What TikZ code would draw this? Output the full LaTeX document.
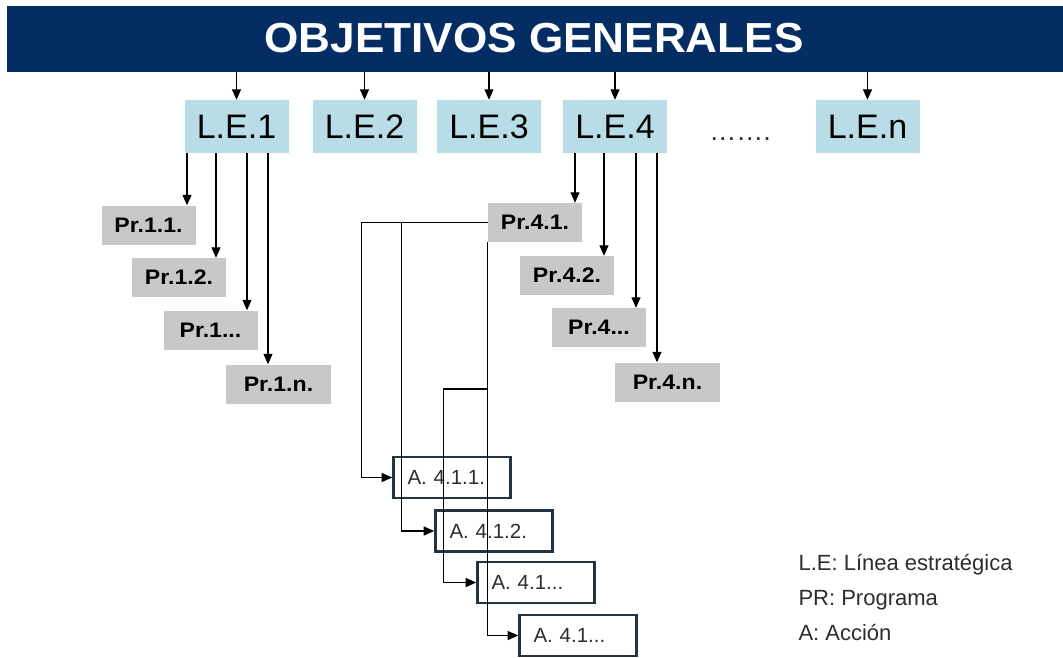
\documentclass[tikz,border=0pt]{standalone}
\usepackage{fontspec}
\setmainfont{Liberation Sans}
\usetikzlibrary{arrows.meta,calc}
\definecolor{bandblue}{RGB}{4,45,100}
\definecolor{leblue}{RGB}{185,221,230}
\definecolor{prgray}{RGB}{200,200,200}
\definecolor{aborder}{RGB}{35,52,64}
\definecolor{txtgray}{RGB}{45,45,45}
\begin{document}
\begin{tikzpicture}[x=1pt,y=-1pt,
  lebox/.style={fill=leblue,minimum width=104pt,minimum height=53pt,inner sep=0pt,
    font=\fontsize{34}{34}\selectfont},
  prbox/.style={fill=prgray,minimum width=94pt,minimum height=39pt,inner sep=0pt,
    font=\fontsize{21}{21}\selectfont\bfseries},
  abox/.style={draw=aborder,line width=2.6pt,minimum width=117pt,minimum height=41pt,
    inner xsep=14pt,text width=89pt,align=left,text=txtgray,
    font=\fontsize{20.5}{20.5}\selectfont},
  arr/.style={-{Triangle[length=10.5pt,width=9pt]},line width=1.2pt,black},
  legend/.style={anchor=base west,text=txtgray,font=\fontsize{22}{22}\selectfont}
]
\useasboundingbox (0,0) rectangle (1063,657);
\fill[white] (0,0) rectangle (1063,657);
% header band
\node[fill=bandblue,minimum width=1056pt,minimum height=66pt,inner sep=0pt,anchor=north west] (band) at (7,6) {};
\node[text=white,font=\fontsize{42}{42}\selectfont\bfseries] (title) at (534,38) {\scalebox{1.05}[1]{OBJETIVOS GENERALES}};
% strategic lines
\node[lebox] (le1) at (236.5,126.5) {L.E.1};
\node[lebox] (le2) at (364.5,126.5) {L.E.2};
\node[lebox] (le3) at (489,126.5) {L.E.3};
\node[lebox] (le4) at (615,126.5) {L.E.4};
\node[font=\fontsize{27}{27}\selectfont,text=txtgray,anchor=base] (dots) at (740,140) {\ldots\ldots.};
\node[lebox] (len) at (867.5,126.5) {L.E.n};
\foreach \n in {le1,le2,le3,le4,len}
  \draw[arr] (band.south -| \n.north) -- (\n.north);
% programmes of L.E.1
\node[prbox] (p11) at (148.5,225) {\scalebox{1.1}[1]{Pr.1.1.}};
\node[prbox] (p12) at (179,277.5) {\scalebox{1.1}[1]{Pr.1.2.}};
\node[prbox] (p1d) at (210.5,330) {\scalebox{1.1}[1]{Pr.1...}};
\node[prbox,minimum width=105pt] (p1n) at (278.5,384) {\scalebox{1.1}[1]{Pr.1.n.}};
\draw[arr] (le1.south -| 187,0) -- (p11.north -| 187,0);
\draw[arr] (le1.south -| 216,0) -- (p12.north -| 216,0);
\draw[arr] (le1.south -| 247,0) -- (p1d.north -| 247,0);
\draw[arr] (le1.south -| 268,0) -- (p1n.north -| 268,0);
% programmes of L.E.4
\node[prbox] (p41) at (535,222.5) {\scalebox{1.1}[1]{Pr.4.1.}};
\node[prbox] (p42) at (567,275.5) {\scalebox{1.1}[1]{Pr.4.2.}};
\node[prbox] (p4d) at (599,327.5) {\scalebox{1.1}[1]{Pr.4...}};
\node[prbox,minimum width=105pt] (p4n) at (667.5,382) {\scalebox{1.1}[1]{Pr.4.n.}};
\draw[arr] (le4.south -| 575,0) -- (p41.north -| 575,0);
\draw[arr] (le4.south -| 604,0) -- (p42.north -| 604,0);
\draw[arr] (le4.south -| 636,0) -- (p4d.north -| 636,0);
\draw[arr] (le4.south -| 657,0) -- (p4n.north -| 657,0);
% actions
\node[abox] (a1) at (452,477.5) {A. 4.1.1.};
\node[abox] (a2) at (494,531) {A. 4.1.2.};
\node[abox] (a3) at (536,582.5) {A. 4.1...};
\node[abox] (a4) at (578,635.5) {A. 4.1...};
\draw[arr] (p41.west) -| ([xshift=-31pt]a1.west) -- (a1.west);
\draw[arr] (p41.west) -| ([xshift=-33pt]a2.west) -- (a2.west);
\draw[arr] (p41.south west) |- (a4.west);
\draw[arr] (p41.south west |- 0,389) -| ([xshift=-33pt]a3.west) -- (a3.west);
% legend
\node[legend] (l1) at (795,570) {L.E: Línea estratégica};
\node[legend] (l2) at (795,605) {PR: Programa};
\node[legend] (l3) at (795,640) {A: Acción};
\end{tikzpicture}
\end{document}
